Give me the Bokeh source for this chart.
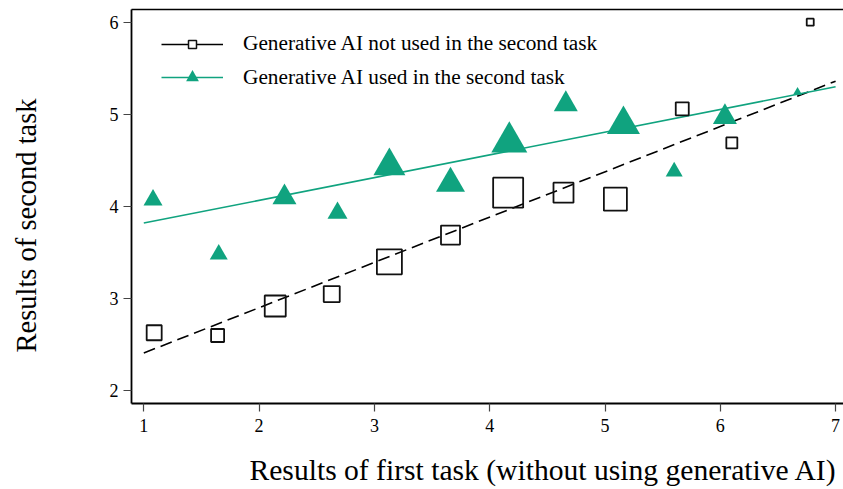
from bokeh.plotting import figure
from bokeh.models import (Legend, LegendItem, LinearAxis, FixedTicker, Range1d, Title,
                          CustomJSTickFormatter)
from bokeh.embed import file_html
from bokeh.resources import INLINE

# Binned means: first-task score (x) against second-task score (y)
first_no_ai = [1.09, 1.64, 2.14, 2.63, 3.13, 3.66, 4.16, 4.64, 5.09, 5.67, 6.10, 6.78]
second_no_ai = [2.63, 2.60, 2.92, 3.05, 3.40, 3.69, 4.15, 4.15, 4.08, 5.06, 4.69, 6.00]
weight_no_ai = [15, 13, 21, 16, 25, 19, 30, 20, 23, 13, 11, 7]

first_ai = [1.08, 1.65, 2.22, 2.68, 3.13, 3.66, 4.17, 4.66, 5.16, 5.60, 6.04, 6.67]
second_ai = [4.07, 3.48, 4.10, 3.93, 4.44, 4.25, 4.70, 5.11, 4.89, 4.38, 4.97, 5.24]
weight_ai = [19, 18, 24, 20, 32, 29, 36, 24, 33, 17, 24, 9]

# Linear fits, evaluated at the ends of the first-task scale
fit_x = [1, 7]
fit_no_ai = [2.41, 5.36]
fit_ai = [3.82, 5.30]

x_ticks = [1, 2, 3, 4, 5, 6, 7]
y_ticks = [2, 3, 4, 5, 6]

label_no_ai = "Generative AI not used in the second task"
label_ai = "Generative AI used in the second task"
x_title = "Results of first task (without using generative AI)"
y_title = "Results of second task"

GREEN = "#10A37F"
SERIF = "Liberation Serif"
MARKER_SCALE = 1.0
NAN = float("nan")

p = figure(
    width=843, height=489,
    x_range=Range1d(0.8933, 7.0685), y_range=Range1d(1.862, 6.138),
    output_backend="svg", toolbar_location=None,
    min_border_left=131, min_border_right=0, min_border_top=9, min_border_bottom=86,
    background_fill_color="white", border_fill_color="white",
)
p.outline_line_color = None
p.grid.visible = False

# fitted lines
p.line(fit_x, fit_no_ai, line_color="black", line_width=1.6, line_dash="12 6")
p.line(fit_x, fit_ai, line_color=GREEN, line_width=1.6)

# binned points, marker size follows bin weight
sq = p.scatter(first_no_ai, second_no_ai, size=[w * MARKER_SCALE for w in weight_no_ai],
               marker="square", fill_color=None, line_color="#111111", line_width=1.8)
tri = p.scatter(first_ai, second_ai, size=[w * MARKER_SCALE for w in weight_ai],
                marker="triangle", fill_color=GREEN, line_color=None)

# key samples: solid lines with a marker on top (nothing drawn in the plot area)
key_line_no_ai = p.line(x=[NAN, NAN], y=[NAN, NAN], line_color="black", line_width=1.6)
key_mark_no_ai = p.scatter(x=[NAN], y=[NAN], marker="square", fill_color="white",
                           line_color="#111111", line_width=1.5)
key_line_ai = p.line(x=[NAN, NAN], y=[NAN, NAN], line_color=GREEN, line_width=1.6)
key_mark_ai = p.scatter(x=[NAN], y=[NAN], marker="triangle", fill_color=GREEN, line_color=None)

# axes with ticks
for ax in (p.xaxis, p.yaxis):
    ax.axis_line_width = 1.8
    ax.axis_line_color = "black"
    ax.major_tick_out = 8
    ax.major_tick_in = 0
    ax.minor_tick_out = 0
    ax.minor_tick_in = 0
    ax.major_tick_line_color = "#444444"
    ax.major_tick_line_width = 1.2
    ax.major_label_text_font = SERIF
    ax.major_label_text_font_size = "18px"
    ax.major_label_text_color = "black"

p.xaxis.ticker = FixedTicker(ticks=x_ticks)
p.yaxis.ticker = FixedTicker(ticks=y_ticks)
p.xaxis.major_label_standoff = 7
p.yaxis.major_label_standoff = 5

# top border line
top = LinearAxis(ticker=FixedTicker(ticks=[]), axis_line_width=1.6, axis_line_color="black",
                 major_tick_out=0, major_tick_in=0, minor_tick_out=0, minor_tick_in=0,
                 major_label_text_font_size="0px")
p.add_layout(top, "above")

# blank axes that open a gap between the tick labels and the titles
def gap_axis(tick, depth):
    return LinearAxis(ticker=FixedTicker(ticks=[tick]), axis_line_color=None,
                      major_tick_out=depth, major_tick_in=0, minor_tick_out=0, minor_tick_in=0,
                      major_tick_line_color="white", major_tick_line_width=1,
                      formatter=CustomJSTickFormatter(code="return ''"),
                      major_label_standoff=0, major_label_text_font_size="0px")

p.add_layout(gap_axis(4, 17), "below")
p.add_layout(gap_axis(4, 65), "left")

# axis titles
p.add_layout(Title(text=x_title, align="left", offset=118, standoff=0, vertical_align="bottom",
                   text_font=SERIF, text_font_size="29.6px", text_font_style="normal",
                   text_color="black"), "below")
p.add_layout(Title(text=y_title, align="left", offset=51, standoff=0, vertical_align="bottom",
                   text_font=SERIF, text_font_size="28.5px", text_font_style="normal",
                   text_color="black"), "left")

# key, one box per series so each marker keeps its own size
def make_key(item_renderers, label, glyph_h, vy):
    lg = Legend(items=[LegendItem(label=label, renderers=item_renderers)],
                location=(30, vy), glyph_width=62, glyph_height=glyph_h, label_height=glyph_h,
                label_standoff=20, padding=0, margin=0, spacing=0,
                border_line_color=None, background_fill_alpha=0,
                label_text_font=SERIF, label_text_font_size="21.3px", label_text_color="black")
    p.add_layout(lg, "center")

make_key([key_line_no_ai, key_mark_no_ai], label_no_ai, 20, 347)
make_key([key_line_ai, key_mark_ai], label_ai, 32, 310)

open("out.html", "w").write(file_html(p, INLINE))
